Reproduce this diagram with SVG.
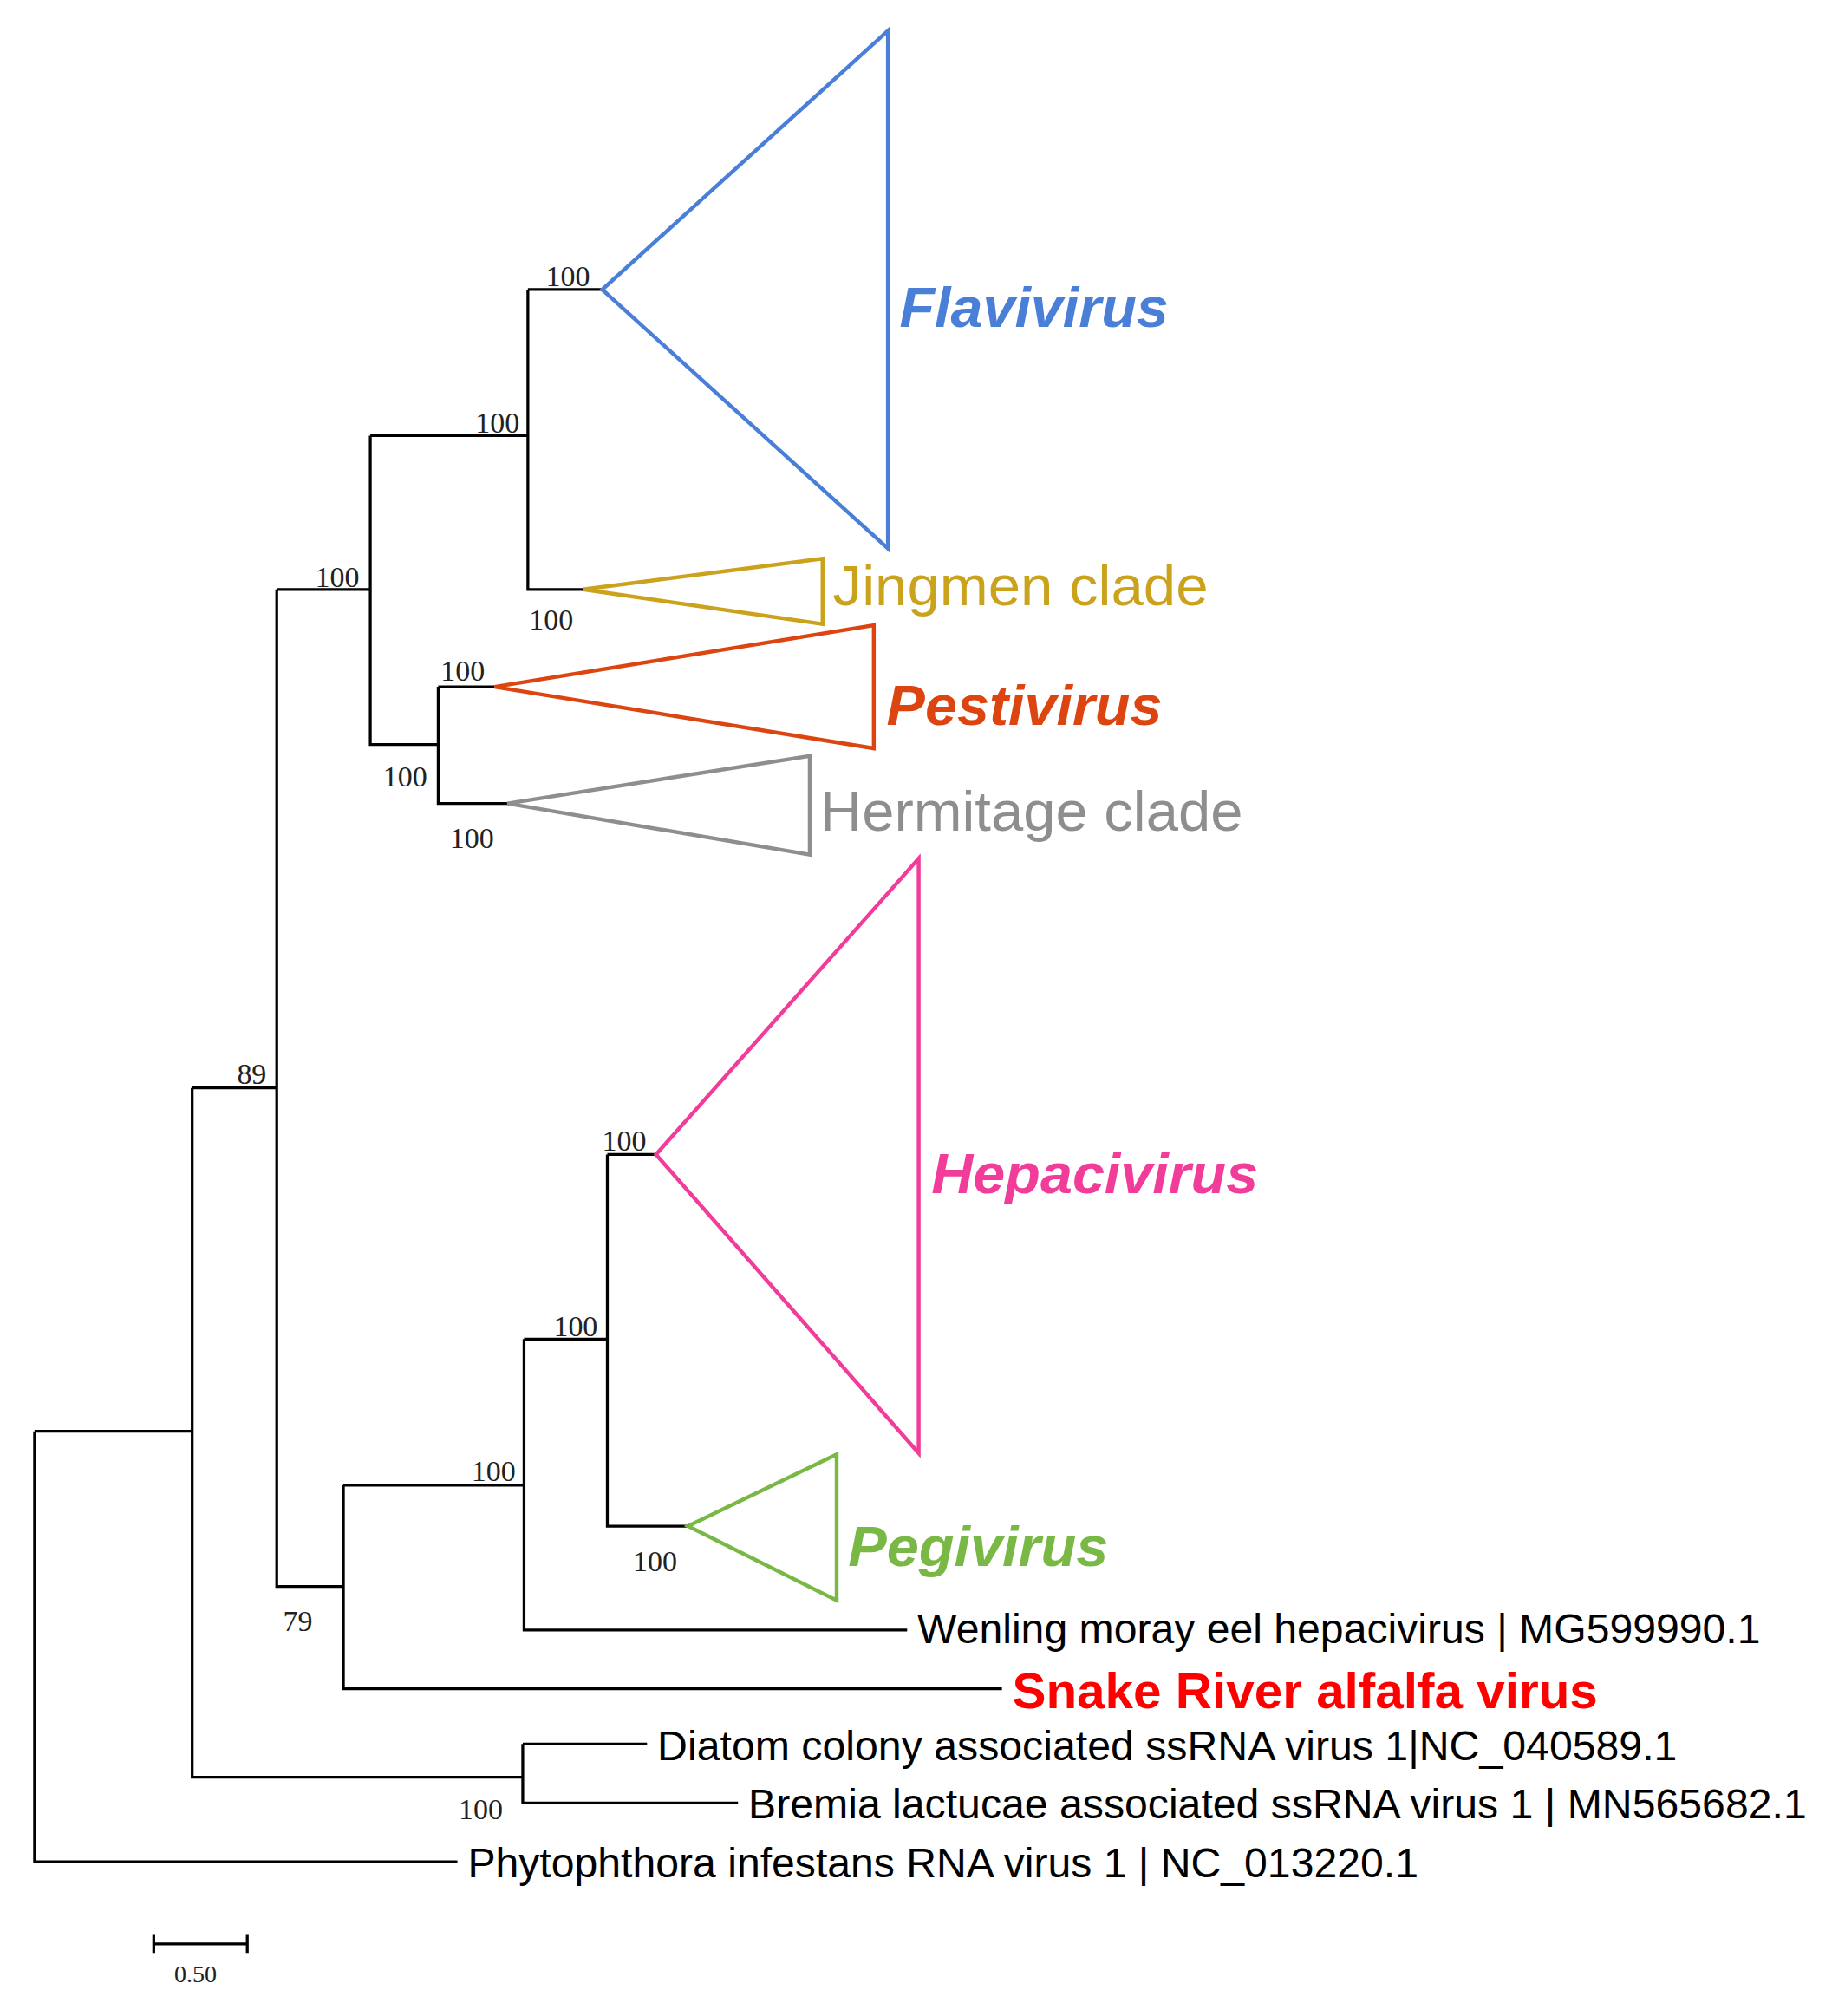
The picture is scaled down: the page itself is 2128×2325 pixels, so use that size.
<svg xmlns="http://www.w3.org/2000/svg" width="2128" height="2325" viewBox="0 0 2128 2325">
<style>
.b{fill:none;stroke:#000;stroke-width:2.2}
.t{fill:none;stroke-width:3}
.bs{font-family:"Liberation Serif",serif;font-size:23px;fill:#222}
.lf{font-family:"Liberation Sans",sans-serif;font-size:32px;fill:#000}
.cl{font-family:"Liberation Sans",sans-serif;font-size:44px}
.it{font-weight:bold;font-style:italic}
</style>
<rect width="2128" height="2325" fill="#fff"/>
<g transform="scale(1.4778)">
<g id="connectors">
<path class="b" d="M27,1117V1453H357M27,1117H150"/>
<path class="b" d="M150,849V1387H408M150,849H216"/>
<path class="b" d="M408,1361V1407H576M408,1361H505"/>
<path class="b" d="M216,460V1238H268M216,460H289"/>
<path class="b" d="M289,340V581H342M289,340H412"/>
<path class="b" d="M412,226V460H455M412,226H470"/>
<path class="b" d="M342,536V627H396M342,536H386"/>
<path class="b" d="M268,1159V1318H782M268,1159H409"/>
<path class="b" d="M409,1045V1272H708M409,1045H474"/>
<path class="b" d="M474,901V1191H537M474,901H512"/>
<path class="b" d="M120,1517H193M120,1510V1524M193,1510V1524"/>
</g>
<g id="flavivirus"><polygon class="t" stroke="#4a7fd8" points="470,226 693,24 693,428"/><text class="cl it" fill="#4a7fd8" x="702" y="255" textLength="210" lengthAdjust="spacingAndGlyphs">Flavivirus</text></g>
<g id="jingmen"><polygon class="t" stroke="#caa21c" points="455,460 642,436 642,487"/><text class="cl" fill="#caa21c" x="650" y="472" textLength="293" lengthAdjust="spacingAndGlyphs">Jingmen clade</text></g>
<g id="pestivirus"><polygon class="t" stroke="#dd4510" points="386,536 682,488 682,584"/><text class="cl it" fill="#dd4510" x="692" y="566" textLength="215" lengthAdjust="spacingAndGlyphs">Pestivirus</text></g>
<g id="hermitage"><polygon class="t" stroke="#8e8e8e" points="396,627 632,590 632,667"/><text class="cl" fill="#8e8e8e" x="640" y="648" textLength="330" lengthAdjust="spacingAndGlyphs">Hermitage clade</text></g>
<g id="hepacivirus"><polygon class="t" stroke="#f23c9a" points="512,901 717,670 717,1134"/><text class="cl it" fill="#f23c9a" x="727" y="931" textLength="255" lengthAdjust="spacingAndGlyphs">Hepacivirus</text></g>
<g id="pegivirus"><polygon class="t" stroke="#79b844" points="537,1191 653,1135 653,1249"/><text class="cl it" fill="#79b844" x="662" y="1222" textLength="203" lengthAdjust="spacingAndGlyphs">Pegivirus</text></g>
<g id="leaves">
<text class="lf" x="716" y="1282" textLength="658" lengthAdjust="spacingAndGlyphs">Wenling moray eel hepacivirus | MG599990.1</text>
<text class="lf" x="790" y="1333" style="font-size:39px;font-weight:bold;fill:#f00" textLength="457" lengthAdjust="spacingAndGlyphs">Snake River alfalfa  virus</text>
<text class="lf" x="513" y="1374" textLength="796" lengthAdjust="spacingAndGlyphs">Diatom colony associated ssRNA virus 1|NC_040589.1</text>
<text class="lf" x="584" y="1419" textLength="826" lengthAdjust="spacingAndGlyphs">Bremia lactucae associated ssRNA virus 1 | MN565682.1</text>
<text class="lf" x="365" y="1465" textLength="742" lengthAdjust="spacingAndGlyphs">Phytophthora infestans RNA virus 1 | NC_013220.1</text>
</g>
<g id="bootstrap">
<text class="bs" x="426" y="223">100</text>
<text class="bs" x="371" y="338">100</text>
<text class="bs" x="413" y="491">100</text>
<text class="bs" x="246" y="458">100</text>
<text class="bs" x="344" y="531">100</text>
<text class="bs" x="299" y="614">100</text>
<text class="bs" x="351" y="662">100</text>
<text class="bs" x="185" y="846">89</text>
<text class="bs" x="470" y="898">100</text>
<text class="bs" x="432" y="1043">100</text>
<text class="bs" x="368" y="1156">100</text>
<text class="bs" x="494" y="1226">100</text>
<text class="bs" x="221" y="1273">79</text>
<text class="bs" x="358" y="1420">100</text>
<text class="bs" x="136" y="1547" style="font-size:19px">0.50</text>
</g>
</g>
</svg>
